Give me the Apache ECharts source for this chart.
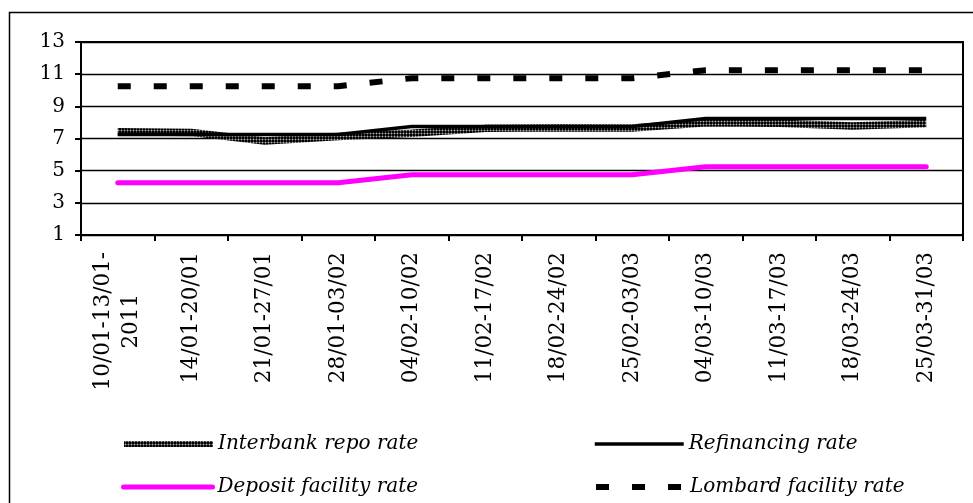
<!DOCTYPE html>
<html>
<head>
<meta charset="utf-8">
<script src="https://cdn.jsdelivr.net/npm/echarts@6/dist/echarts.min.js"></script>
<style>
  html, body { margin: 0; padding: 0; background: #fff; }
  #chart { width: 973px; height: 503px; }
</style>
</head>
<body>
<div id="chart"></div>
<script>
// Weekly periods, Jan–Mar 2011
const weeks = [
  '10/01-13/01-\n2011', '14/01-20/01', '21/01-27/01', '28/01-03/02',
  '04/02-10/02', '11/02-17/02', '18/02-24/02', '25/02-03/03',
  '04/03-10/03', '11/03-17/03', '18/03-24/03', '25/03-31/03'
];

// Rates, %
const interbankRepo   = [7.42, 7.38, 6.84, 7.12, 7.32, 7.63, 7.67, 7.65, 7.98, 7.95, 7.78, 7.93];
const refinancing     = [7.25, 7.25, 7.25, 7.25, 7.75, 7.75, 7.75, 7.75, 8.25, 8.25, 8.25, 8.25];
const depositFacility = [4.25, 4.25, 4.25, 4.25, 4.75, 4.75, 4.75, 4.75, 5.25, 5.25, 5.25, 5.25];
const lombardFacility = [10.25, 10.25, 10.25, 10.25, 10.75, 10.75, 10.75, 10.75, 11.25, 11.25, 11.25, 11.25];

// Value axis ticks
const yMin = 1, yMax = 13, yStep = 2;

const seriesNames = ['Interbank repo rate', 'Refinancing rate', 'Deposit facility rate', 'Lombard facility rate'];

// Dotted grey texture for the interbank band
function dottedTexture() {
  const c = document.createElement('canvas');
  c.width = 3; c.height = 3;
  const g = c.getContext('2d');
  g.fillStyle = '#000';
  g.fillRect(0, 0, 3, 3);
  g.fillStyle = '#444';
  g.fillRect(1, 0, 1, 3);
  g.fillRect(0, 1, 3, 1);
  g.fillStyle = '#b0b0b0';
  g.fillRect(1, 1, 1, 1);
  return { image: c, repeat: 'repeat' };
}
const repoTexture = dottedTexture();

const serif = '"DejaVu Serif", "Liberation Serif", serif';

function legendAt(name, left, top, lineStyle) {
  return {
    data: [name],
    left: left, top: top,
    padding: 0,
    orient: 'horizontal',
    itemWidth: 89,
    itemHeight: 20,
    selectedMode: false,
    itemStyle: { opacity: 0 },
    lineStyle: lineStyle,
    textStyle: { fontFamily: serif, fontStyle: 'italic', fontSize: 20, color: '#000', padding: 0 }
  };
}

const chart = echarts.init(document.getElementById('chart'), null, { renderer: 'canvas' });

chart.setOption({
  animation: false,
  backgroundColor: '#fff',
  graphic: [{
    type: 'rect',
    silent: true,
    shape: { x: 9.5, y: 12.5, width: 1000, height: 600 },
    style: { fill: 'none', stroke: '#000', lineWidth: 1.5 }
  }],
  grid: {
    left: 81, top: 42, width: 882, height: 193,
    show: true, borderColor: '#000', borderWidth: 2, backgroundColor: 'transparent'
  },
  legend: [
    legendAt(seriesNames[0], 121, 434, { width: 6, color: repoTexture, cap: 'butt' }),
    legendAt(seriesNames[1], 593, 434, { width: 3.5, color: '#000', cap: 'butt' }),
    legendAt(seriesNames[2], 121, 477, { width: 5, color: '#ff00ff', cap: 'round' }),
    legendAt(seriesNames[3], 593, 477, { width: 6, color: '#000', type: [13, 23], cap: 'butt' })
  ],
  xAxis: {
    type: 'category',
    data: weeks,
    boundaryGap: true,
    axisLine: { lineStyle: { color: '#000', width: 2 } },
    axisTick: { show: true, length: 6, inside: false, lineStyle: { color: '#000', width: 2 } },
    axisLabel: {
      interval: 0,
      rotate: 90,
      margin: 17,
      color: '#000',
      fontFamily: serif,
      fontSize: 21.5,
      lineHeight: 28,
      formatter: function (v) {
        return v.split('\n').map(function (s) { return '{c|' + s + '}'; }).join('\n');
      },
      rich: { c: { align: 'center', fontFamily: serif, fontSize: 21.5, lineHeight: 28, color: '#000' } }
    },
    splitLine: { show: false }
  },
  yAxis: {
    type: 'value',
    min: yMin, max: yMax, interval: yStep,
    axisLine: { show: true, lineStyle: { color: '#000', width: 2 } },
    axisTick: { show: true, length: 6, lineStyle: { color: '#000', width: 2 } },
    axisLabel: { color: '#000', fontFamily: serif, fontSize: 20, margin: 16 },
    splitLine: { show: true, lineStyle: { color: '#000', width: 1.4 } }
  },
  series: [
    {
      name: seriesNames[0], type: 'line', data: interbankRepo,
      symbol: 'none', z: 3,
      lineStyle: { width: 7.5, color: repoTexture, cap: 'butt' },
      itemStyle: { color: '#333' }
    },
    {
      name: seriesNames[1], type: 'line', data: refinancing,
      symbol: 'none', z: 4,
      lineStyle: { width: 3.5, color: '#000' },
      itemStyle: { color: '#000' }
    },
    {
      name: seriesNames[2], type: 'line', data: depositFacility,
      symbol: 'none', z: 3,
      lineStyle: { width: 5, color: '#ff00ff', cap: 'round' },
      itemStyle: { color: '#ff00ff' }
    },
    {
      name: seriesNames[3], type: 'line', data: lombardFacility,
      symbol: 'none', z: 3,
      lineStyle: { width: 6, color: '#000', type: [13, 23], cap: 'butt' },
      itemStyle: { color: '#000' }
    }
  ]
});
</script>
</body>
</html>
